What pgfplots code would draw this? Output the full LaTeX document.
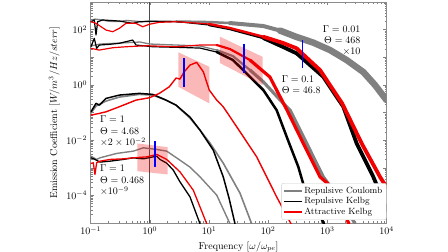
\documentclass[border=0pt]{standalone}
\usepackage{pgfplots}
\pgfplotsset{compat=1.18}
\definecolor{cgray}{RGB}{128,128,128}
\definecolor{cred}{RGB}{240,0,0}
\begin{document}
\begin{tikzpicture}
\useasboundingbox (-90.7pt,-29pt) rectangle (357.3pt,223pt);
\begin{axis}[
  scale only axis, width=295.8pt, height=221pt,
  xmode=log, ymode=log,
  xmin=0.1, xmax=1e4, ymin=1e-5, ymax=1e3,
  xtick={0.1,1,10,100,1000,10000},
  minor xtick={0.2,0.3,0.4,0.5,0.6,0.7,0.8,0.9,2,3,4,5,6,7,8,9,20,30,40,50,60,70,80,90,200,300,400,500,600,700,800,900,2000,3000,4000,5000,6000,7000,8000,9000},
  ytick={1e-5,1e-4,1e-3,1e-2,1e-1,1,1e1,1e2,1e3},
  yticklabels={,$10^{-4}$,,$10^{-2}$,,$10^{0}$,,$10^{2}$,},
  minor ytick={2e-5,3e-5,4e-5,5e-5,6e-5,7e-5,8e-5,9e-5,2e-4,3e-4,4e-4,5e-4,6e-4,7e-4,8e-4,9e-4,2e-3,3e-3,4e-3,5e-3,6e-3,7e-3,8e-3,9e-3,2e-2,3e-2,4e-2,5e-2,6e-2,7e-2,8e-2,9e-2,0.2,0.3,0.4,0.5,0.6,0.7,0.8,0.9,2,3,4,5,6,7,8,9,20,30,40,50,60,70,80,90,200,300,400,500,600,700,800,900},
  xlabel={Frequency $[\omega/\omega_{pe}]$},
  ylabel={Emission Coefficient $[W/m^3/Hz/sterr]$},
  axis line style={black!45},
  every tick/.style={black!50},
  major tick length=3.5pt, minor tick length=2pt,
  every axis plot/.append style={line join=round, line cap=round},
  legend style={at={(1,0.0136)}, anchor=south east, font=\small, draw=black!20, fill=white, rounded corners=2pt, inner sep=2pt, row sep=-1.5pt},
  legend cell align=left,
]
\addlegendimage{cgray, line width=1.5pt, line cap=butt}
\addlegendentry{Repulsive Coulomb}
\addlegendimage{black, line width=1.5pt, line cap=butt}
\addlegendentry{Repulsive Kelbg}
\addlegendimage{cred, line width=1.5pt, line cap=butt}
\addlegendentry{Attractive Kelbg}

% vertical reference line at omega = omega_pe
\addplot[forget plot, black!70, line width=0.8pt, line cap=butt] coordinates {(1,1e-5)(1,1e3)};

% ---------------- Repulsive Coulomb (gray) ----------------
% Gamma = 0.01
\addplot[forget plot, cgray, line width=1.3pt] coordinates {(0.1,223)(0.12,240)(0.16,223)(0.2,200)(0.304,197)(0.4,215)(0.525,205)(0.7,195)(1.0,205)(2.77,197)};
\addplot[forget plot, cgray, line width=2.5pt] coordinates {(2.77,197)(10,188)(22.6,173)};
\addplot[forget plot, cgray, line width=4pt] coordinates {(22.6,173)(82.8,135)(158,92.7)};
\addplot[forget plot, cgray, line width=6.5pt] coordinates {(158,92.7)(303,54.0)(573,34.1)(1109,18.2)(2123,7.92)(4055,2.91)(6397,0.984)(10000,0.281)};
% Gamma = 0.1
\addplot[forget plot, cgray, line width=1.3pt] coordinates {(0.101,25.5)(0.1436,30.1)(0.313,32.7)(0.680,35.6)(1.0,30.1)(2.77,27.7)(7.04,25.5)(13.5,18.2)};
\addplot[forget plot, cgray, line width=2.2pt] coordinates {(13.5,18.2)(25.4,11.0)(49.3,3.44)};
\addplot[forget plot, cgray, line width=3.2pt] coordinates {(49.3,3.44)(82.8,1.29)(180,0.214)(234,0.122)(448,7.59e-3)(855,4.68e-4)(1986,4.07e-5)(2938,9.4e-6)};
% Gamma = 1, Theta = 4.68
\addplot[forget plot, cgray, line width=1.6pt] coordinates {(0.101,0.0951)(0.123,0.171)(0.1815,0.259)(0.304,0.361)(0.662,0.453)(1.117,0.427)(1.875,0.281)(2.77,0.185)(4.77,0.0627)(7.04,0.0230)(10.4,7.78e-3)(17.4,1.47e-3)(33.4,1.20e-4)(52.6,9.4e-6)};
% Gamma = 1, Theta = 0.468
\addplot[forget plot, cgray, line width=1.4pt] coordinates {(0.101,2.63e-3)(0.126,2.00e-3)(0.1436,2.29e-3)(0.275,3.30e-3)(0.525,3.99e-3)(0.774,5.26e-3)(1.305,4.60e-3)(1.926,3.99e-3)(3.23,1.88e-3)(4.77,1.05e-3)(7.04,4.68e-4)(13.5,1.02e-4)(22.6,9.4e-6)};

% ---------------- Repulsive Kelbg (black) ----------------
\addplot[forget plot, black, line width=1.2pt] coordinates {(0.101,193)(0.115,223)(0.123,63.7)(0.131,193)(0.160,223)(0.304,205)(0.513,169)(0.662,193)(1.0,197)(2.77,197)(10,147)};
\addplot[forget plot, black, line width=2.4pt] coordinates {(10,147)(22.6,105)(82.8,49.6)};
\addplot[forget plot, black, line width=3.8pt] coordinates {(82.8,49.6)(180,23.4)(303,13.8)(509,5.21)(855,1.96)(1862,0.161)(3133,7.59e-3)(5984,4.68e-4)(8299,8.83e-5)(10000,2.91e-5)};
\addplot[forget plot, black, line width=1.2pt] coordinates {(0.101,24.0)(0.115,48.4)(0.126,21.0)(0.140,27.7)(0.206,29.3)(0.304,31.9)(0.513,42.0)(0.583,27.7)(1.117,24.0)(2.77,22.9)(7.04,21.5)(13.5,15.4)};
\addplot[forget plot, black, line width=2.5pt] coordinates {(13.5,15.4)(25.4,7.92)(49.3,1.96)(82.8,0.648)(139,0.122)(216,0.01)(323,1.08e-3)(393,2.55e-4)(618,4.07e-5)(879,9.4e-6)};
\addplot[forget plot, black, line width=1.5pt] coordinates {(0.101,0.106)(0.123,0.214)(0.140,0.185)(0.1815,0.324)(0.304,0.427)(0.662,0.492)(1.117,0.453)(1.875,0.281)(2.77,0.185)(4.77,0.0681)(7.04,0.0230)(11.8,4.34e-3)(17.4,4.68e-4)(21.8,7.93e-5)(27.5,9.4e-6)};
\addplot[forget plot, black, line width=1.3pt] coordinates {(0.101,2.29e-3)(0.118,2.00e-3)(0.1436,1.60e-3)(0.212,1.73e-3)(0.356,2.00e-3)(0.525,2.29e-3)(0.774,2.10e-3)(1.305,2.63e-3)(1.483,2.00e-3)(1.926,1.47e-3)(2.49,8.18e-4)(3.23,3.08e-4)(4.77,8.83e-5)(7.04,9.4e-6)};

% ---------------- Attractive Kelbg (red) ----------------
\addplot[forget plot, cred, line width=1.2pt] coordinates {(0.101,193)(0.123,169)(0.1815,96.8)(0.2355,84)(0.304,111)(0.395,169)(0.583,169)(0.757,127)(0.980,156)(1.445,184)(2.77,193)(10,160)};
\addplot[forget plot, cred, line width=2.4pt] coordinates {(10,160)(22.6,114)(82.8,55.3)};
\addplot[forget plot, cred, line width=3.8pt] coordinates {(82.8,55.3)(180,32.7)(303,21.0)(509,7.46)(752,3.44)(1770,0.219)(3811,7.59e-3)(7762,4.68e-4)(10000,1.98e-4)};
\addplot[forget plot, cred, line width=1.2pt] coordinates {(0.101,21.0)(0.140,18.2)(0.2355,22.1)(0.395,24.0)(0.861,26.1)(2.77,24.0)(7.04,27.7)(13.5,27.7)};
\addplot[forget plot, cred, line width=2.2pt] coordinates {(13.5,27.7)(22.6,19.8)(49.3,7.92)};
\addplot[forget plot, cred, line width=3.2pt] coordinates {(49.3,7.92)(107,1.92)(208,0.122)(393,7.59e-3)(752,4.68e-4)(1038,2.55e-4)(1637,4.42e-5)(2323,9.4e-6)};
\addplot[forget plot, cred, line width=1.4pt] coordinates {(0.101,0.0805)(0.140,0.0927)(0.1815,0.106)(0.304,0.161)(0.583,0.281)(0.980,0.341)(1.445,0.492)(2.133,0.853)(2.77,1.76)(3.23,1.62)(3.78,2.91)(4.77,5.21)(6.19,6.53)(8.0,2.99)(10.1,0.648)(13.5,0.281)(17.4,0.161)(29.4,0.0303)(64.0,2.48e-3)(139,8.83e-5)(243,9.4e-6)};
\addplot[forget plot, cred, line width=1.3pt] coordinates {(0.101,1.43e-3)(0.1106,1.51e-3)(0.118,5.71e-4)(0.126,1.51e-3)(0.1436,1.73e-3)(0.212,2.00e-3)(0.356,2.10e-3)(0.525,2.29e-3)(0.885,2.48e-3)(1.305,3.03e-3)(1.926,2.00e-3)(3.23,7.10e-4)(5.42,1.54e-4)(9.14,9.4e-6)};

% ---------------- shaded windows ----------------
\addplot[forget plot, draw=none, fill=cred, fill opacity=0.28] coordinates {(15.3,55.3)(80.2,10.4)(80.2,0.984)(15.3,6.17)(15.3,55.3)};
\addplot[forget plot, draw=none, fill=cred, fill opacity=0.28] coordinates {(3.03,15.1)(10.1,4.53)(10.1,0.214)(3.03,0.853)(3.03,15.1)};
\addplot[forget plot, draw=none, fill=cred, fill opacity=0.28] coordinates {(0.613,7.59e-3)(2.0,5.57e-3)(2.0,5.71e-4)(0.613,7.53e-4)(0.613,7.59e-3)};

% ---------------- blue markers ----------------
\addplot[forget plot, blue, line width=1.2pt, line cap=butt] coordinates {(384,42.0)(384,3.96)};
\addplot[forget plot, blue, line width=1.2pt, line cap=butt] coordinates {(39.0,30.1)(39.0,2.61)};
\addplot[forget plot, blue, line width=1.2pt, line cap=butt] coordinates {(3.78,9.12)(3.78,0.853)};
\addplot[forget plot, blue, line width=1.2pt, line cap=butt] coordinates {(1.22,9.2e-3)(1.22,1.08e-3)};

% ---------------- annotations ----------------
\node[anchor=east, align=right, font=\fontsize{10}{11}\selectfont, inner sep=0pt] at (axis cs:3640,39.3) {$\Gamma = 0.01$\\$\Theta = 468$\\$\times 10$};
\node[anchor=west, align=left, font=\fontsize{10}{11}\selectfont, inner sep=0pt] at (axis cs:169,0.984) {$\Gamma = 0.1$\\$\Theta = 46.8$};
\node[anchor=west, align=left, font=\fontsize{10}{11.5}\selectfont, inner sep=0pt] at (axis cs:0.1436,0.0207) {$\Gamma = 1$\\$\Theta = 4.68$\\$\times 2\times 10^{-2}$};
\node[anchor=west, align=left, font=\fontsize{10}{11.5}\selectfont, inner sep=0pt] at (axis cs:0.1436,3.56e-4) {$\Gamma = 1$\\$\Theta = 0.468$\\$\times 10^{-9}$};
\end{axis}
\end{tikzpicture}
\end{document}
